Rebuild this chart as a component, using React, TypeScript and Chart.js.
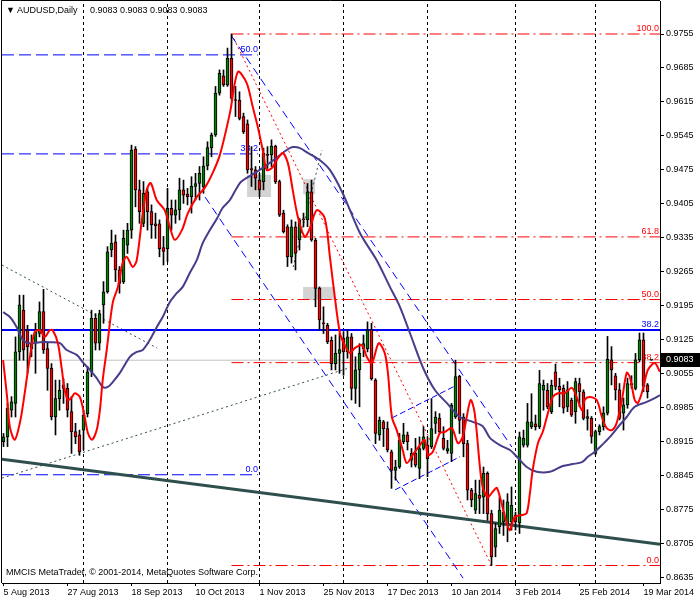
import React, { useEffect, useRef } from 'react';
import { Chart, registerables } from 'chart.js';

Chart.register(...registerables);

// ---------- data (daily bars, index 0 = 5 Aug 2013) ----------
const OPEN = [
  0.8915, 0.8925, 0.8980, 0.8994, 0.9100, 0.9186, 0.9145, 0.9107, 0.9118, 0.9138,
  0.9183, 0.9107, 0.9066, 0.8966, 0.9004, 0.9032, 0.9025, 0.8977, 0.8936, 0.8929,
  0.8939, 0.8973, 0.9059, 0.9169, 0.9118, 0.9197, 0.9224, 0.9310, 0.9327, 0.9269,
  0.9245, 0.9320, 0.9351, 0.9518, 0.9434, 0.9365, 0.9430, 0.9389, 0.9364, 0.9364,
  0.9315, 0.9313, 0.9396, 0.9382, 0.9393, 0.9434, 0.9425, 0.9420, 0.9441, 0.9447,
  0.9440, 0.9483, 0.9521, 0.9547, 0.9633, 0.9669, 0.9650, 0.9705, 0.9620, 0.9619,
  0.9585, 0.9570, 0.9478, 0.9475, 0.9454, 0.9451, 0.9506, 0.9506, 0.9524, 0.9451,
  0.9386, 0.9358, 0.9296, 0.9358, 0.9331, 0.9373, 0.9372, 0.9430, 0.9330, 0.9231,
  0.9160, 0.9155, 0.9124, 0.9076, 0.9097, 0.9128, 0.9100, 0.9131, 0.9025, 0.9063,
  0.9107, 0.9107, 0.9146, 0.9042, 0.8929, 0.8956, 0.8942, 0.8894, 0.8856, 0.8863,
  0.8915, 0.8929, 0.8877, 0.8891, 0.8860, 0.8901, 0.8908, 0.8905, 0.8953, 0.8963,
  0.8922, 0.8896, 0.8891, 0.8966, 0.9050, 0.8966, 0.8911, 0.8815, 0.8774, 0.8805,
  0.8801, 0.8850, 0.8767, 0.8698, 0.8740, 0.8750, 0.8746, 0.8750, 0.8764, 0.8748,
  0.8908, 0.8908, 0.8946, 0.8952, 0.8946, 0.9021, 0.9021, 0.8977, 0.9059, 0.9029,
  0.9025, 0.8987, 0.9001, 0.8977, 0.9035, 0.9018, 0.8963, 0.8963, 0.8891, 0.8936,
  0.8946, 0.8974, 0.9084, 0.9051, 0.9022, 0.8974, 0.8991, 0.9032, 0.9025, 0.9084,
  0.9125, 0.9032, 0.9083,
];
const HIGH = [
  0.8932, 0.8994, 0.9008, 0.9131, 0.9217, 0.9217, 0.9155, 0.9135, 0.9159, 0.9203,
  0.9229, 0.9118, 0.9076, 0.9042, 0.9042, 0.9045, 0.9035, 0.9008, 0.8953, 0.8939,
  0.8980, 0.9070, 0.9186, 0.9179, 0.9186, 0.9245, 0.9317, 0.9351, 0.9341, 0.9276,
  0.9351, 0.9365, 0.9526, 0.9523, 0.9454, 0.9451, 0.9437, 0.9403, 0.9386, 0.9372,
  0.9338, 0.9437, 0.9413, 0.9413, 0.9458, 0.9454, 0.9437, 0.9461, 0.9468, 0.9482,
  0.9502, 0.9533, 0.9551, 0.9647, 0.9681, 0.9681, 0.9726, 0.9755, 0.9647, 0.9636,
  0.9592, 0.9578, 0.9523, 0.9482, 0.9468, 0.9520, 0.9523, 0.9537, 0.9526, 0.9454,
  0.9392, 0.9362, 0.9372, 0.9368, 0.9375, 0.9386, 0.9447, 0.9454, 0.9334, 0.9234,
  0.9193, 0.9159, 0.9131, 0.9135, 0.9138, 0.9142, 0.9145, 0.9138, 0.9090, 0.9117,
  0.9135, 0.9162, 0.9159, 0.9045, 0.8966, 0.8959, 0.8956, 0.8898, 0.8877, 0.8932,
  0.8953, 0.8935, 0.8901, 0.8922, 0.8925, 0.8946, 0.8925, 0.9004, 0.8977, 0.8973,
  0.8946, 0.8918, 0.8994, 0.9083, 0.9052, 0.8973, 0.8918, 0.8819, 0.8836, 0.8836,
  0.8863, 0.8853, 0.8774, 0.8747, 0.8801, 0.8795, 0.8808, 0.8822, 0.8770, 0.8935,
  0.8939, 0.8994, 0.9014, 0.8970, 0.9062, 0.9042, 0.9035, 0.9042, 0.9075, 0.9046,
  0.9032, 0.9039, 0.9005, 0.9046, 0.9046, 0.9022, 0.8981, 0.8967, 0.8939, 0.8950,
  0.8987, 0.9132, 0.9111, 0.9056, 0.9035, 0.9005, 0.9046, 0.9051, 0.9097, 0.9139,
  0.9139, 0.9035, 0.9083,
];
const LOW = [
  0.8905, 0.8905, 0.8966, 0.8966, 0.9083, 0.9083, 0.9056, 0.9090, 0.9056, 0.9131,
  0.9097, 0.9021, 0.8960, 0.8929, 0.8980, 0.8994, 0.8966, 0.8891, 0.8911, 0.8887,
  0.8898, 0.8966, 0.9049, 0.9104, 0.9104, 0.9159, 0.9221, 0.9296, 0.9245, 0.9221,
  0.9241, 0.9303, 0.9334, 0.9399, 0.9365, 0.9358, 0.9351, 0.9334, 0.9334, 0.9296,
  0.9279, 0.9286, 0.9351, 0.9365, 0.9372, 0.9406, 0.9403, 0.9386, 0.9413, 0.9413,
  0.9427, 0.9475, 0.9502, 0.9544, 0.9629, 0.9647, 0.9647, 0.9619, 0.9585, 0.9578,
  0.9550, 0.9468, 0.9441, 0.9434, 0.9420, 0.9434, 0.9478, 0.9482, 0.9447, 0.9379,
  0.9345, 0.9276, 0.9283, 0.9269, 0.9310, 0.9358, 0.9358, 0.9328, 0.9193, 0.9145,
  0.9138, 0.9117, 0.9063, 0.9063, 0.9056, 0.9052, 0.9087, 0.9001, 0.8994, 0.8987,
  0.9090, 0.9100, 0.9042, 0.8911, 0.8918, 0.8905, 0.8894, 0.8819, 0.8836, 0.8860,
  0.8911, 0.8898, 0.8863, 0.8863, 0.8839, 0.8898, 0.8843, 0.8901, 0.8932, 0.8932,
  0.8898, 0.8891, 0.8874, 0.8963, 0.8932, 0.8884, 0.8795, 0.8781, 0.8767, 0.8767,
  0.8767, 0.8753, 0.8660, 0.8678, 0.8726, 0.8722, 0.8709, 0.8733, 0.8733, 0.8726,
  0.8904, 0.8904, 0.8942, 0.8939, 0.8942, 0.8980, 0.8983, 0.8973, 0.9022, 0.8987,
  0.8974, 0.8977, 0.8967, 0.8953, 0.8987, 0.8960, 0.8939, 0.8912, 0.8888, 0.8929,
  0.8939, 0.8970, 0.9032, 0.9001, 0.8960, 0.8939, 0.8984, 0.9025, 0.9022, 0.9080,
  0.9018, 0.9005, 0.9083,
];
const CLOSE = [
  0.8925, 0.8984, 0.8997, 0.9100, 0.9197, 0.9104, 0.9111, 0.9118, 0.9142, 0.9183,
  0.9104, 0.9066, 0.8966, 0.9004, 0.9021, 0.9025, 0.8980, 0.8936, 0.8925, 0.8894,
  0.8970, 0.9059, 0.9169, 0.9118, 0.9179, 0.9224, 0.9306, 0.9324, 0.9269, 0.9241,
  0.9334, 0.9351, 0.9516, 0.9434, 0.9389, 0.9427, 0.9389, 0.9362, 0.9360, 0.9313,
  0.9307, 0.9396, 0.9382, 0.9393, 0.9434, 0.9423, 0.9420, 0.9441, 0.9447, 0.9468,
  0.9483, 0.9521, 0.9547, 0.9633, 0.9674, 0.9650, 0.9705, 0.9623, 0.9618, 0.9581,
  0.9554, 0.9475, 0.9475, 0.9458, 0.9434, 0.9509, 0.9505, 0.9524, 0.9451, 0.9382,
  0.9348, 0.9296, 0.9358, 0.9303, 0.9372, 0.9372, 0.9430, 0.9331, 0.9231, 0.9166,
  0.9158, 0.9121, 0.9076, 0.9097, 0.9105, 0.9100, 0.9131, 0.9025, 0.9063, 0.9097,
  0.9117, 0.9145, 0.9045, 0.8932, 0.8959, 0.8942, 0.8898, 0.8856, 0.8863, 0.8918,
  0.8929, 0.8915, 0.8891, 0.8867, 0.8901, 0.8925, 0.8880, 0.8942, 0.8966, 0.8935,
  0.8901, 0.8901, 0.8990, 0.9049, 0.8959, 0.8911, 0.8815, 0.8795, 0.8808, 0.8798,
  0.8850, 0.8767, 0.8678, 0.8736, 0.8774, 0.8770, 0.8791, 0.8784, 0.8750, 0.8925,
  0.8922, 0.8956, 0.8956, 0.8946, 0.9035, 0.9031, 0.8987, 0.9031, 0.9029, 0.9022,
  0.8984, 0.9022, 0.8970, 0.9039, 0.9018, 0.8963, 0.8967, 0.8926, 0.8936, 0.8946,
  0.8974, 0.9085, 0.9063, 0.9022, 0.8963, 0.8991, 0.9035, 0.9035, 0.9084, 0.9125,
  0.9029, 0.9018, 0.9083,
];

// red (fast) moving average: [bar index, price]
const RED_MA = [
  [-0.1, 0.9083], [0.9, 0.9007], [1.6, 0.8945], [2.8, 0.8919], [4.1, 0.8954], [5.3, 0.9015],
  [6.6, 0.9090], [7.8, 0.9141], [9.1, 0.9145], [10.3, 0.9131], [11.6, 0.9145], [12.3, 0.9145],
  [13.6, 0.9118], [14.6, 0.9063], [15.3, 0.9022], [16.1, 0.9001], [17.1, 0.9007], [17.8, 0.9015],
  [19.1, 0.9007], [20.3, 0.8966], [21.1, 0.8933], [22.1, 0.8919], [23.3, 0.8939], [24.1, 0.8980],
  [24.8, 0.9042], [25.8, 0.9104], [27.3, 0.9201], [28.6, 0.9234], [29.8, 0.9283], [30.8, 0.9296],
  [32.3, 0.9275], [33.3, 0.9289], [34.6, 0.9372], [35.8, 0.9434], [36.8, 0.9448], [38.3, 0.9413],
  [40.3, 0.9392], [41.6, 0.9357], [42.8, 0.9331], [44.6, 0.9351], [46.1, 0.9386], [48.3, 0.9419],
  [50.3, 0.9438], [52.3, 0.9469], [54.1, 0.9506], [56.6, 0.9592], [58.6, 0.9677], [60.8, 0.9654],
  [62.3, 0.9605], [63.6, 0.9563], [64.8, 0.9516], [65.8, 0.9475], [67.1, 0.9479], [68.3, 0.9495],
  [69.8, 0.9510], [71.1, 0.9489], [72.3, 0.9434], [73.6, 0.9378], [75.3, 0.9337], [76.6, 0.9355],
  [78.3, 0.9392], [80.3, 0.9376], [81.6, 0.9296], [82.6, 0.9228], [84.1, 0.9139], [85.3, 0.9114],
  [86.6, 0.9098], [87.8, 0.9108], [89.6, 0.9114], [90.8, 0.9090], [92.1, 0.9077], [93.8, 0.9118],
  [95.3, 0.9098], [96.1, 0.9057], [97.1, 0.8966], [98.3, 0.8939], [99.8, 0.8898], [100.8, 0.8871],
  [102.3, 0.8888], [104.1, 0.8908], [105.3, 0.8919], [106.1, 0.8888], [107.3, 0.8894], [109.1, 0.8933],
  [110.3, 0.8935], [112.1, 0.8943], [113.6, 0.8912], [114.8, 0.8925], [115.8, 0.8966], [116.8, 0.9001],
  [117.8, 0.8974], [119.1, 0.8863], [119.8, 0.8822], [121.1, 0.8801], [122.3, 0.8812], [123.3, 0.8820],
  [124.1, 0.8801], [125.8, 0.8748], [126.6, 0.8733], [127.8, 0.8760], [129.6, 0.8764], [130.8, 0.8768],
  [131.6, 0.8809], [132.3, 0.8857], [133.6, 0.8912], [134.8, 0.8935], [136.1, 0.8974], [137.3, 0.9007],
  [138.6, 0.9015], [140.3, 0.9015], [142.1, 0.9026], [143.3, 0.9007], [144.6, 0.8980], [145.3, 0.9001],
  [146.6, 0.9007], [148.3, 0.9001], [149.6, 0.8966], [150.8, 0.8943], [152.1, 0.8939], [153.3, 0.8954],
  [154.6, 0.9001], [155.8, 0.9057], [156.6, 0.9048], [157.8, 0.9001], [158.6, 0.8995], [159.8, 0.9022],
  [161.1, 0.9063], [162.8, 0.9077], [164.1, 0.9059],
];

// slate-blue (slow) moving average: [bar index, price]
const SLOW_MA = [
  [-0.1, 0.9182], [1.6, 0.9172], [3.3, 0.9151], [4.8, 0.9125], [6.6, 0.9118], [9.1, 0.9120],
  [11.6, 0.9120], [14.1, 0.9118], [15.8, 0.9104], [18.3, 0.9094], [19.8, 0.9079], [21.6, 0.9063],
  [23.3, 0.9046], [24.8, 0.9028], [26.1, 0.9028], [27.3, 0.9038], [29.1, 0.9057], [31.6, 0.9090],
  [33.3, 0.9100], [34.8, 0.9104], [36.6, 0.9125], [38.3, 0.9151], [39.8, 0.9172], [41.6, 0.9203],
  [43.3, 0.9221], [44.8, 0.9234], [46.6, 0.9263], [48.3, 0.9289], [49.8, 0.9324], [51.6, 0.9351],
  [53.3, 0.9374], [54.8, 0.9397], [56.6, 0.9413], [59.1, 0.9448], [61.1, 0.9460], [63.3, 0.9471],
  [65.8, 0.9485], [68.3, 0.9500], [70.8, 0.9516], [72.3, 0.9522], [74.1, 0.9520], [76.1, 0.9510],
  [79.1, 0.9495], [81.6, 0.9475], [84.8, 0.9427], [89.1, 0.9345], [93.3, 0.9289], [96.6, 0.9234],
  [99.1, 0.9193], [101.6, 0.9139], [104.8, 0.9069], [107.8, 0.9022], [110.8, 0.8995], [114.1, 0.8966],
  [117.3, 0.8956], [119.8, 0.8947], [121.6, 0.8923], [124.1, 0.8908], [126.6, 0.8898], [128.6, 0.8882],
  [130.8, 0.8863], [133.3, 0.8853], [136.6, 0.8853], [139.8, 0.8865], [142.3, 0.8869], [144.6, 0.8873],
  [146.1, 0.8884], [147.8, 0.8894], [149.6, 0.8908], [151.6, 0.8925], [154.1, 0.8950], [155.8, 0.8966],
  [157.8, 0.8987], [160.8, 0.8997], [162.8, 0.9005], [164.1, 0.9011],
];

const Y_TICKS = [0.8635, 0.8705, 0.8775, 0.8845, 0.8915, 0.8985, 0.9055, 0.9125, 0.9195,
  0.9265, 0.9335, 0.9405, 0.9475, 0.9545, 0.9615, 0.9685, 0.9755];
const X_TICKS = [0, 16, 32, 48, 64, 80, 96, 112, 128, 144, 160];
const DATE_LABELS = ['5 Aug 2013', '27 Aug 2013', '18 Sep 2013', '10 Oct 2013', '1 Nov 2013',
  '25 Nov 2013', '17 Dec 2013', '10 Jan 2014', '3 Feb 2014', '25 Feb 2014', '19 Mar 2014'];
const MONTH_STARTS = [20, 41, 64, 85, 106, 128, 148];

// chart objects
const RED_FIB_LEVELS = [0.9755, 0.9337, 0.9208, 0.9078, 0.8660];
const RED_FIB_LABELS = ['100.0', '61.8', '50.0', '38.2', '0.0'];
const RED_FIB_START = 57;
const RED_FIB_DIAG = [[57, 0.9755], [122, 0.8660]];
const BLUE_FIB_LEVELS = [0.9712, 0.9508, 0.8847];
const BLUE_FIB_LABELS = ['50.0', '38.2', '0.0'];
const BLUE_FIB_END = 63.6;
const BLUE_LEVEL = 0.9145;
const BLUE_LEVEL_LABEL = '38.2';
const CHANNEL_UPPER = [[57, 0.9751], [127.1, 0.8904]];
const CHANNEL_LOWER = [[50.4, 0.9419], [114.9, 0.8634]];
const SMALL_CHANNEL_TOP = [[97.1, 0.8964], [112.9, 0.9030]];
const SMALL_CHANNEL_BOTTOM = [[97.9, 0.8816], [114.1, 0.8884]];
const SUPPORT_LINE = [[-0.375, 0.8879], [164.125, 0.8704]];
const DOTTED_A = [[-0.375, 0.9279], [38.4, 0.9108]];
const DOTTED_B = [[-0.375, 0.8840], [87.9, 0.9071]];
const DOTTED_C = [[72.4, 0.9275], [79.6, 0.9516]];
const GRAY_BOXES = [[60.9, 66.9, 0.9465, 0.9419], [74.9, 77.9, 0.9456, 0.9425], [74.9, 82.9, 0.9234, 0.9207]];

const SYMBOL = 'AUDUSD,Daily';
const FOOTER = 'MMCIS MetaTrader, \u00A9 2001-2014, MetaQuotes Software Corp.';

// ---------- styling ----------
const FONT = '"Liberation Sans", Arial, Helvetica, sans-serif';
const GREEN = '#008000';
const RED = '#FF0000';
const BLUE = '#0000FF';
const SLATE = '#483D8B';
const DARK = '#2F4F4F';
const X_MIN = -0.375;
const X_MAX = 164.125;
const Y_MIN = 0.8624;
const Y_MAX = 0.9823;

const toPts = (list) => list.map(([x, y]) => ({ x, y }));
const joinSegs = (...segs) => {
  const out = [];
  segs.forEach((s) => { out.push(...toPts(s)); out.push({ x: s[s.length - 1][0], y: null }); });
  return out;
};
const hLines = (levels, x0, x1) => joinSegs(...levels.map((l) => [[x0, l], [x1, l]]));
const vLines = (xs) => joinSegs(...xs.map((m) => [[m, Y_MIN], [m, Y_MAX]]));

const lineDs = (data, color, width, dash, order, extra = {}) => ({
  type: 'line', data, borderColor: color, backgroundColor: color, borderWidth: width,
  borderDash: dash, pointRadius: 0, fill: false, tension: 0, order, ...extra,
});

const mtPlugin = {
  id: 'mtPlugin',
  beforeDraw(chart) {
    const { ctx, width, height } = chart;
    ctx.save();
    ctx.fillStyle = '#FFFFFF';
    ctx.fillRect(0, 0, width, height);
    ctx.restore();
  },
  beforeDatasetsDraw(chart) {
    const { ctx, chartArea: a, scales } = chart;
    const xs = scales.x;
    const ys = scales.y;
    ctx.save();
    ctx.beginPath();
    ctx.rect(a.left, a.top, a.right - a.left, a.bottom - a.top);
    ctx.clip();
    ctx.fillStyle = '#D3D3D3';
    GRAY_BOXES.forEach(([i0, i1, p0, p1]) => {
      const x0 = xs.getPixelForValue(i0);
      const x1 = xs.getPixelForValue(i1);
      const y0 = ys.getPixelForValue(p0);
      const y1 = ys.getPixelForValue(p1);
      ctx.fillRect(Math.min(x0, x1), Math.min(y0, y1), Math.abs(x1 - x0), Math.abs(y1 - y0));
    });
    ctx.font = `9px ${FONT}`;
    ctx.textAlign = 'right';
    ctx.textBaseline = 'bottom';
    ctx.fillStyle = RED;
    RED_FIB_LEVELS.forEach((l, k) => ctx.fillText(RED_FIB_LABELS[k], a.right - 1, ys.getPixelForValue(l) - 1));
    ctx.fillStyle = BLUE;
    BLUE_FIB_LEVELS.forEach((l, k) => ctx.fillText(BLUE_FIB_LABELS[k], xs.getPixelForValue(BLUE_FIB_END), ys.getPixelForValue(l) - 1));
    ctx.fillText(BLUE_LEVEL_LABEL, a.right - 1, ys.getPixelForValue(BLUE_LEVEL) - 1);
    ctx.restore();
  },
  afterDraw(chart) {
    const { ctx, chartArea: a, scales } = chart;
    const ys = scales.y;
    const last = CLOSE.length - 1;
    ctx.save();
    ctx.strokeStyle = '#000';
    ctx.lineWidth = 1;
    ctx.beginPath();
    ctx.moveTo(a.left - 0.5, a.bottom);
    ctx.lineTo(a.left - 0.5, a.top - 0.5);
    ctx.lineTo(a.right, a.top - 0.5);
    ctx.stroke();
    ctx.fillStyle = '#000';
    ctx.font = `9px ${FONT}`;
    ctx.textAlign = 'left';
    ctx.textBaseline = 'middle';
    ctx.fillText('\u25BC', 6, 11);
    ctx.fillText(SYMBOL, 17, 11);
    ctx.fillText([OPEN[last], HIGH[last], LOW[last], CLOSE[last]].map((v) => v.toFixed(4)).join(' '), 90, 11);
    ctx.fillText(FOOTER, 6, 573);
    const yb = Math.round(ys.getPixelForValue(CLOSE[last]));
    ctx.fillStyle = '#000';
    ctx.fillRect(a.right + 1, yb - 7, 40, 14);
    ctx.fillStyle = '#FFF';
    ctx.fillText(CLOSE[last].toFixed(4), a.right + 6, yb);
    ctx.restore();
  },
};

export default function App() {
  const ref = useRef(null);
  useEffect(() => {
    document.body.style.margin = '0';
    const idx = OPEN.map((_, i) => i);
    const wicks = idx.map((i) => ({ x: i, y: [LOW[i], HIGH[i]] }));
    const bodies = idx.map((i) => ({ x: i, y: [OPEN[i], CLOSE[i]] }));
    const bodyColors = idx.map((i) => (CLOSE[i] >= OPEN[i] ? GREEN : RED));

    const chart = new Chart(ref.current, {
      type: 'bar',
      data: {
        datasets: [
          lineDs(vLines(MONTH_STARTS), '#000', 1, [3, 3], 30),
          lineDs(toPts([[X_MIN, CLOSE[CLOSE.length - 1]], [X_MAX, CLOSE[CLOSE.length - 1]]]), '#C0C0C0', 1, [], 29),
          lineDs(hLines(BLUE_FIB_LEVELS, X_MIN, BLUE_FIB_END), BLUE, 1, [12, 5], 28),
          lineDs(hLines(RED_FIB_LEVELS, RED_FIB_START, X_MAX), RED, 1, [12, 4, 2, 4], 27),
          lineDs(toPts(RED_FIB_DIAG), RED, 1, [2, 3], 26),
          lineDs(joinSegs(CHANNEL_UPPER, CHANNEL_LOWER), BLUE, 1, [8, 5], 25),
          lineDs(joinSegs(SMALL_CHANNEL_TOP, SMALL_CHANNEL_BOTTOM), BLUE, 1, [6, 3], 24),
          lineDs(joinSegs(DOTTED_A, DOTTED_B, DOTTED_C), DARK, 1, [2, 3], 23),
          lineDs(toPts(SUPPORT_LINE), DARK, 3, [], 22),
          lineDs(toPts([[X_MIN, BLUE_LEVEL], [X_MAX, BLUE_LEVEL]]), BLUE, 2, [], 21),
          {
            type: 'bar', data: wicks, backgroundColor: '#000', borderWidth: 0,
            barThickness: 1, grouped: false, order: 3,
          },
          {
            type: 'bar', data: bodies, backgroundColor: bodyColors, borderColor: '#000',
            borderWidth: 1, borderSkipped: false, barThickness: 3, minBarLength: 1,
            grouped: false, order: 2,
          },
          lineDs(toPts(SLOW_MA), SLATE, 2, [], 1, { tension: 0.3, borderJoinStyle: 'round' }),
          lineDs(toPts(RED_MA), RED, 2, [], 0, { tension: 0.3, borderJoinStyle: 'round' }),
        ],
      },
      options: {
        animation: false,
        responsive: false,
        devicePixelRatio: 1,
        events: [],
        layout: { padding: { top: 1, left: 2, right: 0, bottom: 0 } },
        plugins: { legend: { display: false }, tooltip: { enabled: false }, title: { display: false } },
        scales: {
          x: {
            type: 'linear', min: X_MIN, max: X_MAX, offset: false,
            grid: { display: true, drawOnChartArea: false, drawTicks: true, tickLength: 3, color: '#000', offset: false },
            border: { display: true, color: '#000' },
            ticks: {
              autoSkip: false, maxRotation: 0, minRotation: 0, align: 'start', padding: 1,
              color: '#000', font: { family: FONT, size: 9 },
              callback: (v, i) => DATE_LABELS[i],
            },
            afterBuildTicks: (s) => { s.ticks = X_TICKS.map((v) => ({ value: v })); },
            afterFit: (s) => { s.height = 17; s.paddingLeft = 0; s.paddingRight = 0; },
          },
          y: {
            type: 'linear', position: 'right', min: Y_MIN, max: Y_MAX,
            grid: { display: true, drawOnChartArea: false, drawTicks: true, tickLength: 4, color: '#000' },
            border: { display: true, color: '#000' },
            ticks: {
              padding: 2, color: '#000', font: { family: FONT, size: 9 },
              callback: (v) => Number(v).toFixed(4),
            },
            afterBuildTicks: (s) => { s.ticks = Y_TICKS.map((v) => ({ value: v })); },
            afterFit: (s) => { s.width = 40; s.paddingTop = 0; s.paddingBottom = 0; },
          },
        },
      },
      plugins: [mtPlugin],
    });
    return () => chart.destroy();
  }, []);
  return (
    <div style={{ width: 700, height: 600 }}>
      <canvas ref={ref} width={700} height={600} style={{ display: 'block' }} />
    </div>
  );
}
